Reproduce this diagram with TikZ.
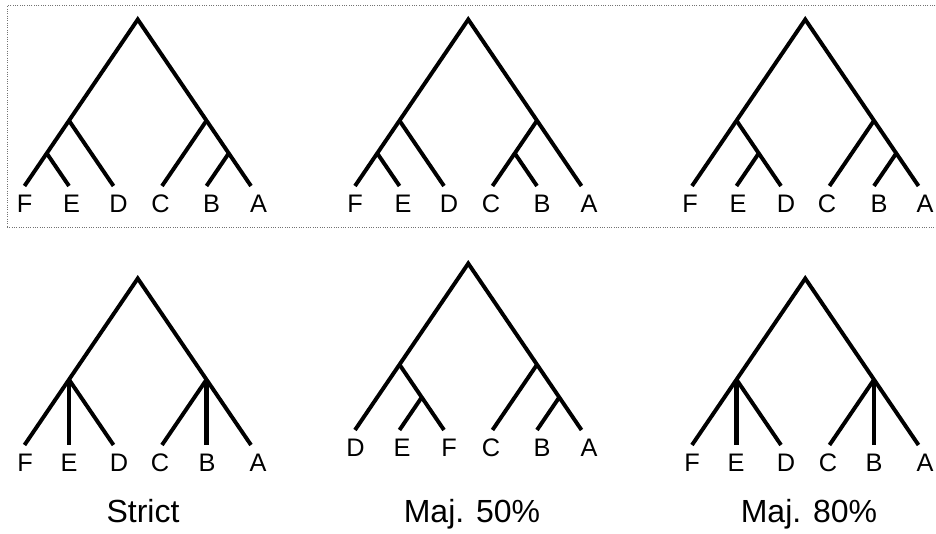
\documentclass[tikz,border=0pt]{standalone}
\usepackage{fontspec}
\setmainfont{Liberation Sans}
\tikzset{
  branch/.style  = {draw=black, line width=2.95pt, line join=miter},
  stem/.style    = {branch, line width=3.3pt},
  taxon/.style   = {anchor=base, inner sep=0pt, font=\fontsize{19}{21}\selectfont},
  treename/.style = {anchor=base, inner sep=0pt, font=\fontsize{24}{28}\selectfont},
  boxline/.style = {densely dotted, draw=black!55, line width=0.75pt}
}

\begin{document}
\begin{tikzpicture}[x=0.75pt, y=-0.75pt]
  \useasboundingbox (0,0) rectangle (936,534);

  % ===================== dotted frame round the input trees =====================
  \draw[boxline] (940,6) -- (7,6) -- (7,228) -- (940,228);

  % ===================== input tree 1: ((F,E),D),(C,(B,A)) =====================
  \begin{scope}[shift={(24.5,186)}]
    \coordinate (aF) at (0,0);      \coordinate (aE) at (44.5,0);
    \coordinate (aD) at (89,0);     \coordinate (aC) at (137.5,0);
    \coordinate (aB) at (182,0);    \coordinate (aA) at (226.5,0);
    \coordinate (aroot) at (113.25,-166.5);
    \coordinate (afed) at (44.5,-65.4);
    \coordinate (afe) at (22.25,-32.7);
    \coordinate (acba) at (182,-65.4);
    \coordinate (aba) at (204.25,-32.7);
    \draw[branch] (aF) -- (aroot) -- (aA);
    \draw[branch] (afe) -- (aE);
    \draw[branch] (afed) -- (aD);
    \draw[branch] (acba) -- (aC);
    \draw[branch] (aba) -- (aB);
    \node[taxon] (aFl) at (0,26.5) {F};
    \node[taxon] (aEl) at (47,26.5) {E};
    \node[taxon] (aDl) at (94,26.5) {D};
    \node[taxon] (aCl) at (136,26.5) {C};
    \node[taxon] (aBl) at (187,26.5) {B};
    \node[taxon] (aAl) at (234,26.5) {A};
  \end{scope}

  % ===================== input tree 2: ((F,E),D),((C,B),A) =====================
  \begin{scope}[shift={(355,186)}]
    \coordinate (bF) at (0,0);      \coordinate (bE) at (44.5,0);
    \coordinate (bD) at (89,0);     \coordinate (bC) at (137.5,0);
    \coordinate (bB) at (182,0);    \coordinate (bA) at (226.5,0);
    \coordinate (broot) at (113.25,-166.5);
    \coordinate (bfed) at (44.5,-65.4);
    \coordinate (bfe) at (22.25,-32.7);
    \coordinate (bcba) at (182,-65.4);
    \coordinate (bcb) at (159.75,-32.7);
    \draw[branch] (bF) -- (broot) -- (bA);
    \draw[branch] (bfe) -- (bE);
    \draw[branch] (bfed) -- (bD);
    \draw[branch] (bcba) -- (bC);
    \draw[branch] (bcb) -- (bB);
    \node[taxon] (bFl) at (0,26.5) {F};
    \node[taxon] (bEl) at (48,26.5) {E};
    \node[taxon] (bDl) at (94,26.5) {D};
    \node[taxon] (bCl) at (136,26.5) {C};
    \node[taxon] (bBl) at (187,26.5) {B};
    \node[taxon] (bAl) at (234,26.5) {A};
  \end{scope}

  % ===================== input tree 3: (F,(E,D)),(C,(B,A)) =====================
  \begin{scope}[shift={(692,186)}]
    \coordinate (cF) at (0,0);      \coordinate (cE) at (44.5,0);
    \coordinate (cD) at (89,0);     \coordinate (cC) at (137.5,0);
    \coordinate (cB) at (182,0);    \coordinate (cA) at (226.5,0);
    \coordinate (croot) at (113.25,-166.5);
    \coordinate (cfed) at (44.5,-65.4);
    \coordinate (ced) at (66.75,-32.7);
    \coordinate (ccba) at (182,-65.4);
    \coordinate (cba) at (204.25,-32.7);
    \draw[branch] (cF) -- (croot) -- (cA);
    \draw[branch] (cfed) -- (cD);
    \draw[branch] (ced) -- (cE);
    \draw[branch] (ccba) -- (cC);
    \draw[branch] (cba) -- (cB);
    \node[taxon] (cFl) at (-2,26.5) {F};
    \node[taxon] (cEl) at (46,26.5) {E};
    \node[taxon] (cDl) at (94,26.5) {D};
    \node[taxon] (cCl) at (135,26.5) {C};
    \node[taxon] (cBl) at (187,26.5) {B};
    \node[taxon] (cAl) at (233,26.5) {A};
  \end{scope}

  % ===================== strict consensus: (F,E,D),(C,B,A) =====================
  \begin{scope}[shift={(24.5,445)}]
    \coordinate (dF) at (0,0);      \coordinate (dE) at (44.5,0);
    \coordinate (dD) at (89,0);     \coordinate (dC) at (137.5,0);
    \coordinate (dB) at (182,0);    \coordinate (dA) at (226.5,0);
    \coordinate (droot) at (113.25,-166.5);
    \coordinate (dfed) at (44.5,-65.4);
    \coordinate (dcba) at (182,-65.4);
    \draw[branch] (dF) -- (droot) -- (dA);
    \draw[stem] (dfed) -- (dE);
    \draw[branch] (dfed) -- (dD);
    \draw[branch] (dcba) -- (dC);
    \draw[stem] (dcba) -- (dB);
    \node[taxon] (dFl) at (0.5,26.5) {F};
    \node[taxon] (dEl) at (44.5,26.5) {E};
    \node[taxon] (dDl) at (94.5,26.5) {D};
    \node[taxon] (dCl) at (135.5,26.5) {C};
    \node[taxon] (dBl) at (182.5,26.5) {B};
    \node[taxon] (dAl) at (233.5,26.5) {A};
    \node[treename] (strict) at (118.5,78) {Strict};
  \end{scope}

  % ===================== majority 50%: (D,(E,F)),(C,(B,A)) =====================
  \begin{scope}[shift={(355,430)}]
    \coordinate (eD) at (0,0);      \coordinate (eE) at (44.5,0);
    \coordinate (eF) at (89,0);     \coordinate (eC) at (137.5,0);
    \coordinate (eB) at (182,0);    \coordinate (eA) at (226.5,0);
    \coordinate (eroot) at (113.25,-166.5);
    \coordinate (edef) at (44.5,-65.4);
    \coordinate (eef) at (66.75,-32.7);
    \coordinate (ecba) at (182,-65.4);
    \coordinate (eba) at (204.25,-32.7);
    \draw[branch] (eD) -- (eroot) -- (eA);
    \draw[branch] (edef) -- (eF);
    \draw[branch] (eef) -- (eE);
    \draw[branch] (ecba) -- (eC);
    \draw[branch] (eba) -- (eB);
    \node[taxon] (eDl) at (0.5,26.5) {D};
    \node[taxon] (eEl) at (47,26.5) {E};
    \node[taxon] (eFl) at (94,26.5) {F};
    \node[taxon] (eCl) at (136,26.5) {C};
    \node[taxon] (eBl) at (187,26.5) {B};
    \node[taxon] (eAl) at (234,26.5) {A};
    \node[treename] (maj50) at (117,93) {Maj. 50\%};
  \end{scope}

  % ===================== majority 80%: (F,E,D),(C,B,A) =====================
  \begin{scope}[shift={(692,445)}]
    \coordinate (fF) at (0,0);      \coordinate (fE) at (44.5,0);
    \coordinate (fD) at (89,0);     \coordinate (fC) at (137.5,0);
    \coordinate (fB) at (182,0);    \coordinate (fA) at (226.5,0);
    \coordinate (froot) at (113.25,-166.5);
    \coordinate (ffed) at (44.5,-65.4);
    \coordinate (fcba) at (182,-65.4);
    \draw[branch] (fF) -- (froot) -- (fA);
    \draw[stem] (ffed) -- (fE);
    \draw[branch] (ffed) -- (fD);
    \draw[branch] (fcba) -- (fC);
    \draw[stem] (fcba) -- (fB);
    \node[taxon] (fFl) at (0,26.5) {F};
    \node[taxon] (fEl) at (44,26.5) {E};
    \node[taxon] (fDl) at (94,26.5) {D};
    \node[taxon] (fCl) at (136,26.5) {C};
    \node[taxon] (fBl) at (182,26.5) {B};
    \node[taxon] (fAl) at (233,26.5) {A};
    \node[treename] (maj80) at (117,78) {Maj. 80\%};
  \end{scope}
\end{tikzpicture}
\end{document}
